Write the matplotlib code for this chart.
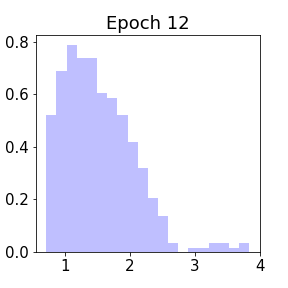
import numpy as np
import matplotlib
matplotlib.use('Agg')
import matplotlib.pyplot as plt

# bin edges and bar heights (density)
bin_edges = [0.707 + 0.1565 * i for i in range(21)]
heights = [0.521, 0.688, 0.787, 0.738, 0.738, 0.605, 0.586, 0.521, 0.418, 0.320,
           0.204, 0.136, 0.034, 0.0, 0.017, 0.017, 0.034, 0.034, 0.017, 0.034]
title = 'Epoch 12'

fig = plt.figure(figsize=(4, 4), dpi=72)
ax = fig.add_axes([0.125, 0.125, 0.778, 0.753])
ax.hist(bin_edges[:-1], bins=bin_edges, weights=heights, color='blue', alpha=0.25)
ax.set_title(title, fontsize=18)
ax.set_xticks([1, 2, 3, 4])
ax.set_yticks([0.0, 0.2, 0.4, 0.6, 0.8])
ax.tick_params(labelsize=15)
ax.set_xlim(0.55, 4.0)
ax.set_ylim(0, 0.826)
fig.savefig('out.png', dpi=72)
